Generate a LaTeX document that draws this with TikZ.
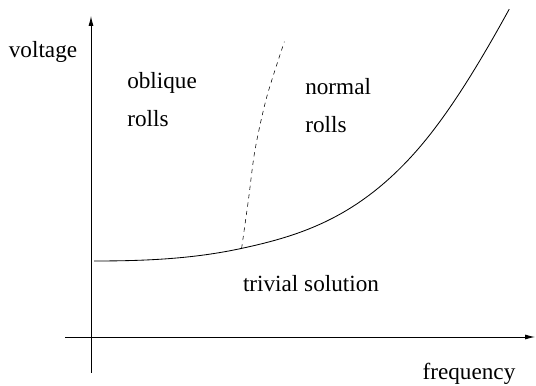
\documentclass[tikz,border=0pt]{standalone}
\usepackage{fontspec}
\setmainfont{Liberation Serif}
\usetikzlibrary{arrows.meta}

\begin{document}
\begin{tikzpicture}[x=1cm,y=1cm,>={Latex[length=7pt,width=3.5pt]},
  every node/.append style={font=\fontsize{16.5}{27}\selectfont,inner sep=0pt}]
  \useasboundingbox (0,0) rectangle (13.4,9.65);
  \draw[->,semithick] (2.275,0.325) -- (2.275,9.25);
  \node (volt) at (1.075,8.35) {voltage};
  \draw[->,semithick] (1.625,1.225) -- (13.375,1.225);
  \node (freq) at (11.725,0.3) {frequency};

  \coordinate (meet) at (6.04,3.44);
  \draw[semithick] (2.35,3.125) .. controls (3.6,3.125) and (4.81,3.174) .. (meet)
    .. controls (7.54,3.764) and (9.0,4.225) .. (10.5,5.98)
    .. controls (11.25,6.86) and (11.98,8.055) .. (12.73,9.42);
  \draw[dashed] plot[smooth] coordinates {(meet) (6.21,4.65) (6.375,5.9) (6.67,7.23) (7.11,8.61)};

  \node[anchor=west,align=left] (oblique) at (3.175,7.16) {oblique\\rolls};
  \node[anchor=west,align=left] (normal) at (7.625,7.0) {normal\\rolls};
  \node (trivial) at (7.775,2.55) {trivial solution};
\end{tikzpicture}
\end{document}
